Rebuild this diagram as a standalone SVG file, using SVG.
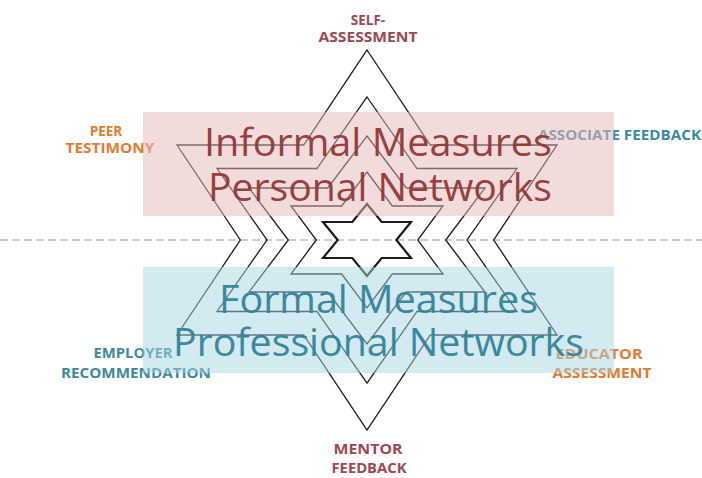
<svg xmlns="http://www.w3.org/2000/svg" width="702" height="478" viewBox="0 0 702 478">
<style>
.lbl{font-family:"Open Sans","Liberation Sans",sans-serif;font-weight:bold;font-size:13.5px;text-anchor:middle}
.red{fill:#a04650}
.org{fill:#e47a2e}
.teal{fill:#3d88a3}
.star{fill:none;stroke:#1a1a1a;stroke-width:1.3;stroke-linejoin:miter}
.big{font-family:"Open Sans","Liberation Sans",sans-serif;font-size:39px;text-anchor:middle;opacity:0.95}
</style>
<rect width="702" height="478" fill="#ffffff"/>
<line x1="0" y1="240" x2="702" y2="240" stroke="#bfbfbf" stroke-width="1.3" stroke-dasharray="8 4"/>
<g id="self-assessment"><text class="lbl red" x="368" y="25">SELF-</text><text class="lbl red" x="368" y="42" textLength="99" lengthAdjust="spacingAndGlyphs">ASSESSMENT</text></g>
<g id="peer-testimony"><text class="lbl org" x="106" y="136">PEER</text><text class="lbl org" x="110" y="153" textLength="89" lengthAdjust="spacingAndGlyphs">TESTIMONY</text></g>
<g id="associate-feedback"><text class="lbl teal" x="538" y="140" style="text-anchor:start" textLength="163" lengthAdjust="spacingAndGlyphs">ASSOCIATE FEEDBACK</text></g>
<g id="employer-recommendation"><text class="lbl teal" x="133" y="358" textLength="79" lengthAdjust="spacingAndGlyphs">EMPLOYER</text><text class="lbl teal" x="136" y="378" textLength="150" lengthAdjust="spacingAndGlyphs">RECOMMENDATION</text></g>
<g id="educator-assessment"><text class="lbl org" x="599" y="359" textLength="87" lengthAdjust="spacingAndGlyphs">EDUCATOR</text><text class="lbl org" x="602" y="378" textLength="99" lengthAdjust="spacingAndGlyphs">ASSESSMENT</text></g>
<g id="mentor-feedback"><text class="lbl red" x="368" y="454" textLength="69" lengthAdjust="spacingAndGlyphs">MENTOR</text><text class="lbl red" x="369" y="473" textLength="75" lengthAdjust="spacingAndGlyphs">FEEDBACK</text></g>
<g id="stars">
<polygon class="star" points="367,50 430.3,145 557,145 493.7,240 557,335 430.3,335 367,430 303.7,335 177,335 240.3,240 177,145 303.7,145"/>
<polygon class="star" points="367,97 417,168.5 517,168.5 467,240 517,311.5 417,311.5 367,383 317,311.5 217,311.5 267,240 217,168.5 317,168.5"/>
<polygon class="star" points="367,136 406.3,188 485,188 445.7,240 485,292 406.3,292 367,344 327.7,292 249,292 288.3,240 249,188 327.7,188"/>
<polygon class="star" points="367,172 392.3,206 443,206 417.7,240 443,274 392.3,274 367,308 341.7,274 291,274 316.3,240 291,206 341.7,206"/>
<polygon class="star" style="stroke-width:2.2" points="367,204 381.7,222 411,222 396.3,240 411,258 381.7,258 367,276 352.3,258 323,258 337.7,240 323,222 352.3,222"/>
</g>
<g id="informal-box">
<rect x="143" y="112" width="471" height="104" fill="#e6b9b8" opacity="0.5"/>
<text class="big" x="378" y="156" fill="#953735" textLength="348" lengthAdjust="spacingAndGlyphs">Informal Measures</text>
<text class="big" x="380" y="201" fill="#953735" textLength="344" lengthAdjust="spacingAndGlyphs">Personal Networks</text>
</g>
<g id="formal-box">
<rect x="143" y="267" width="471" height="106" fill="#a5d5e2" opacity="0.5"/>
<text class="big" x="378.5" y="313" fill="#31849b" textLength="319" lengthAdjust="spacingAndGlyphs">Formal Measures</text>
<text class="big" x="378.5" y="356" fill="#31849b" textLength="411" lengthAdjust="spacingAndGlyphs">Professional Networks</text>
</g>
</svg>
